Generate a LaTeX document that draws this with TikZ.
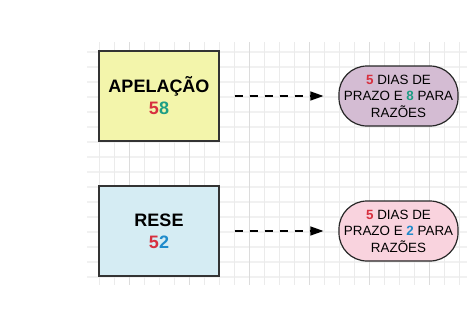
\documentclass[tikz,border=0pt]{standalone}
\usepackage{fontspec}
\setmainfont{Liberation Sans}
\usetikzlibrary{arrows.meta}
\definecolor{cinco}{HTML}{D7303F}
\definecolor{oito}{HTML}{1E9E85}
\definecolor{dois}{HTML}{1F8BCB}
\definecolor{amarelo}{HTML}{F3F5AB}
\definecolor{azul}{HTML}{D5ECF3}
\definecolor{lilas}{HTML}{D4BCD3}
\definecolor{rosa}{HTML}{F9D3DE}
\definecolor{grade}{HTML}{F1F1F1}
\definecolor{gradev}{HTML}{EBEBEB}
\definecolor{gradeforte}{HTML}{DCDCDC}
\begin{document}
\begin{tikzpicture}[x=1pt,y=-1pt]
\useasboundingbox (0,0) rectangle (468,332);
\foreach \y in {52,67,...,277} \draw[grade, line width=1.2pt] (87,\y) -- (467,\y);
\foreach \x in {99,114,...,459} \draw[gradev, line width=0.8pt] (\x,42) -- (\x,285);
\foreach \x in {129,189,...,429} \draw[gradeforte, line width=0.8pt] (\x,42) -- (\x,285);
\node[draw=black!80, line width=1.2pt, fill=amarelo, minimum width=120pt, minimum height=90pt, align=center, font=\fontsize{18}{22}\selectfont\bfseries] (apelacao) at (159,96) {APELAÇÃO\\\textcolor{cinco}{5}\textcolor{oito}{8}};
\node[draw=black!80, line width=1.2pt, fill=azul, minimum width=120pt, minimum height=90pt, align=center, font=\fontsize{18}{22}\selectfont\bfseries] (rese) at (159,231) {RESE\\\textcolor{cinco}{5}\textcolor{dois}{2}};
\node[draw=black!85, line width=1.2pt, fill=lilas, rounded corners=28pt, minimum width=119pt, minimum height=60pt, inner sep=0pt, align=center, font=\fontsize{13.4}{16.5}\selectfont] (prazoa) at (398.5,96) {\textbf{\textcolor{cinco}{5}} DIAS DE\\PRAZO E \textbf{\textcolor{oito}{8}} PARA\\RAZÕES};
\node[draw=black!85, line width=1.2pt, fill=rosa, rounded corners=28pt, minimum width=119pt, minimum height=60pt, inner sep=0pt, align=center, font=\fontsize{13.4}{16.5}\selectfont] (prazob) at (398.5,231) {\textbf{\textcolor{cinco}{5}} DIAS DE\\PRAZO E \textbf{\textcolor{dois}{2}} PARA\\RAZÕES};
\draw[-{Triangle[length=13pt,width=9pt]}, line width=1.2pt, dash pattern=on 8pt off 7pt] ([xshift=15pt]apelacao.east) -- ([xshift=-15pt]prazoa.west);
\draw[-{Triangle[length=13pt,width=9pt]}, line width=1.2pt, dash pattern=on 8pt off 7pt] ([xshift=15pt]rese.east) -- ([xshift=-15pt]prazob.west);
\end{tikzpicture}
\end{document}
